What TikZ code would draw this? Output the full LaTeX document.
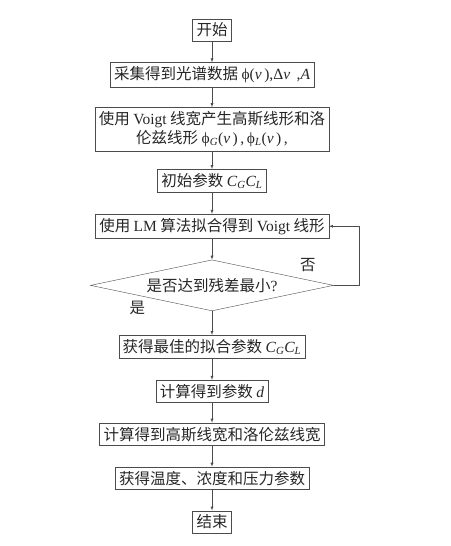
\documentclass[tikz,border=0pt]{standalone}
\usepackage{fontspec}
\setmainfont{Noto Sans CJK SC}
\newfontfamily\lat{Liberation Serif}
\newcommand{\ivar}[1]{{\lat\itshape #1}}
\newcommand{\isub}[1]{\textsubscript{\ivar{#1}}}
\usetikzlibrary{shapes.geometric,arrows,positioning}
\tikzstyle{process} = [rectangle,
                       minimum height=22pt,
                       inner sep=4pt,
                       text centered,
                       draw=black!70,
                       text=black!85,
                       font=\fontsize{15.5}{19}\selectfont]
\tikzstyle{decision} = [diamond,
                        aspect=4.8,
                        minimum width=243pt,
                        minimum height=51pt,
                        inner sep=0pt,
                        text centered,
                        draw=black!70,
                        text=black!85,
                        font=\fontsize{15.5}{19}\selectfont]
\tikzstyle{answer} = [inner sep=1pt,
                      text=black!85,
                      font=\fontsize{15.5}{19}\selectfont]
\tikzstyle{arrow} = [draw=black!70,
                     ->,
                     >=latex]

\begin{document}
\begin{tikzpicture}[node distance=21pt, x=1pt, y=1pt]
    \useasboundingbox (0,0) rectangle (450,-546);

    \node (start) [process] at (212,-30)                           {开始};
    \node (proc0) [process, below=of start, minimum height=20pt]   {采集得到光谱数据 {\lat ϕ(\ivar{v}\,),Δ\ivar{v}\, ,\ivar{A}}};
    \node (proc1) [process, below=20pt of proc0, align=center]     {使用 {\lat Voigt} 线宽产生高斯线形和洛\\伦兹线形 {\lat ϕ\isub{G}(\ivar{v}\,)\,,\,ϕ\isub{L}(\ivar{v}\,)\,,}};
    \node (proc2) [process, below=18pt of proc1]                   {初始参数 \ivar{C}\isub{G}\ivar{C}\isub{L}};
    \node (lm)    [process, below=of proc2]                        {使用 {\lat LM} 算法拟合得到 {\lat Voigt} 线形};
    \node (deci1) [decision, below=of lm]                          {是否达到残差最小{\lat ?}};
    \node (proc3) [process, below=24pt of deci1]                   {获得最佳的拟合参数 \ivar{C}\isub{G}\ivar{C}\isub{L}};
    \node (proc4) [process, below=of proc3]                        {计算得到参数 \ivar{d}};
    \node (proc5) [process, below=20pt of proc4]                   {计算得到高斯线宽和洛伦兹线宽};
    \node (proc6) [process, below=of proc5]                        {获得温度、浓度和压力参数};
    \node (stop)  [process, below=of proc6]                        {结束};

    \node (no)  [answer, above left=12pt and 17pt of deci1.east]  {否};
    \node (yes) [answer, below right=15pt and 38pt of deci1.west] {是};

    \draw [arrow] (start) -- (proc0);
    \draw [arrow] (proc0) -- (proc1);
    \draw [arrow] (proc1) -- (proc2);
    \draw [arrow] (proc2) -- (lm);
    \draw [arrow] (lm)    -- (deci1);
    \draw [arrow] (deci1) -- (proc3);
    \draw [arrow] (proc3) -- (proc4);
    \draw [arrow] (proc4) -- (proc5);
    \draw [arrow] (proc5) -- (proc6);
    \draw [arrow] (proc6) -- (stop);

    \draw [arrow] (deci1.east) -- ++(25,0) |- (lm);

\end{tikzpicture}
\end{document}
